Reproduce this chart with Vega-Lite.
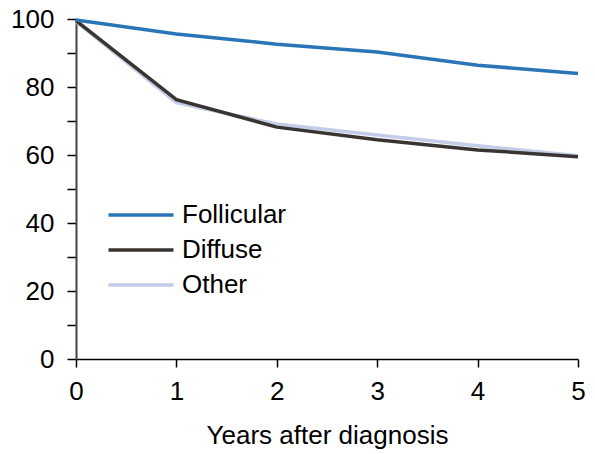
{
  "$schema": "https://vega.github.io/schema/vega-lite/v6.json",
  "width": 502,
  "height": 340,
  "autosize": "none",
  "padding": {"left": 76, "top": 19, "right": 17, "bottom": 95},
  "background": "white",
  "config": {
    "view": {"stroke": null},
    "font": "Liberation Sans"
  },
  "data": {
    "values": [
      {"year": 0, "type": "Other", "survival": 99.2},
      {"year": 1, "type": "Other", "survival": 75.4},
      {"year": 2, "type": "Other", "survival": 69.1},
      {"year": 3, "type": "Other", "survival": 65.9},
      {"year": 4, "type": "Other", "survival": 62.7},
      {"year": 5, "type": "Other", "survival": 59.8},
      {"year": 0, "type": "Diffuse", "survival": 99.5},
      {"year": 1, "type": "Diffuse", "survival": 76.3},
      {"year": 2, "type": "Diffuse", "survival": 68.2},
      {"year": 3, "type": "Diffuse", "survival": 64.5},
      {"year": 4, "type": "Diffuse", "survival": 61.5},
      {"year": 5, "type": "Diffuse", "survival": 59.5},
      {"year": 0, "type": "Follicular", "survival": 99.7},
      {"year": 1, "type": "Follicular", "survival": 95.6},
      {"year": 2, "type": "Follicular", "survival": 92.6},
      {"year": 3, "type": "Follicular", "survival": 90.3},
      {"year": 4, "type": "Follicular", "survival": 86.4},
      {"year": 5, "type": "Follicular", "survival": 84.0}
    ]
  },
  "mark": {"type": "line", "strokeWidth": 3.5},
  "encoding": {
    "x": {
      "field": "year", "type": "quantitative",
      "scale": {"domain": [0, 5], "nice": false, "zero": false},
      "axis": {
        "values": [0, 1, 2, 3, 4, 5],
        "title": "Years after diagnosis",
        "titleFontSize": 26, "titleFontWeight": "normal", "titleColor": "black",
        "titlePadding": 18,
        "labelFontSize": 26, "labelColor": "black", "labelPadding": 11,
        "tickSize": 8, "tickColor": "black", "tickWidth": 1.5,
        "domainColor": "black", "domainWidth": 1.5,
        "grid": false, "labelFlush": false
      }
    },
    "y": {
      "field": "survival", "type": "quantitative",
      "scale": {"domain": [0, 100], "nice": false},
      "axis": {
        "values": [0, 10, 20, 30, 40, 50, 60, 70, 80, 90, 100],
        "labelExpr": "datum.value % 20 === 0 ? datum.label : ''",
        "title": null,
        "labelFontSize": 26, "labelColor": "black", "labelPadding": 13,
        "tickSize": 9, "tickColor": "black", "tickWidth": 1.5,
        "domainColor": "#444", "domainWidth": 2,
        "grid": false, "labelFlush": false
      }
    },
    "color": {
      "field": "type", "type": "nominal",
      "scale": {"domain": ["Follicular", "Diffuse", "Other"], "range": ["#2a74b8", "#3a3431", "#c3cde9"]},
      "legend": {
        "title": null,
        "orient": "none",
        "legendX": 47,
        "legendY": 178,
        "symbolType": "M-2,0H2",
        "symbolSize": 1056,
        "symbolStrokeWidth": 3.5,
        "labelFontSize": 26,
        "labelColor": "black",
        "labelOffset": 23,
        "rowPadding": 4
      }
    }
  }
}
